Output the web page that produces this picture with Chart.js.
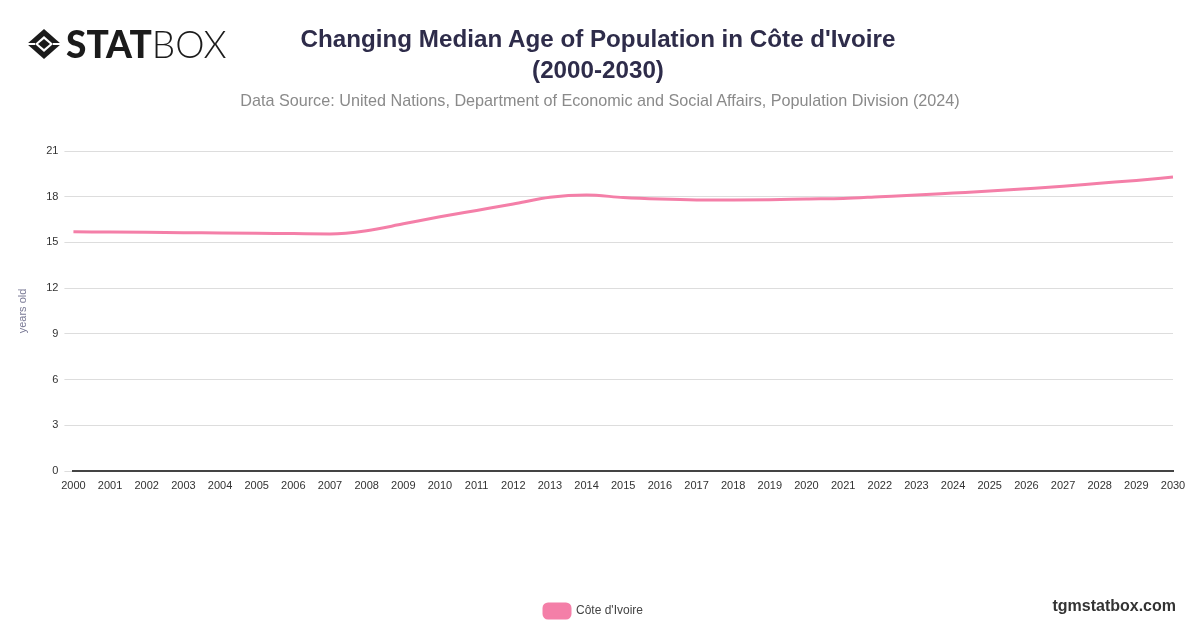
<!DOCTYPE html>
<html>
<head>
<meta charset="utf-8">
<script src="https://cdn.jsdelivr.net/npm/chart.js@4.4.1/dist/chart.umd.min.js"></script>
<style>
  html, body { margin: 0; padding: 0; background: #fff; }
  #wrap { position: relative; width: 1200px; height: 628px; }
  #chart { position: absolute; left: 0; top: 0; }
  #logo { position: absolute; left: 26px; top: 21px; display: flex; align-items: center; font-family: Lato, "Liberation Sans", sans-serif; color: #1b1b1b; }
  #logo .stat { font-weight: 900; font-size: 37px; margin-left: 4px; }
  #logo .box { font-weight: 300; font-size: 37px; }
  #title { position: absolute; left: 0; top: 23px; width: 1196px; text-align: center; font-family: "Liberation Sans", Arial, sans-serif; font-weight: bold; font-size: 24.2px; line-height: 31px; color: #2e2c4a; }
  #subtitle { position: absolute; left: 0; top: 90px; width: 1200px; text-align: center; font-family: "Liberation Sans", Arial, sans-serif; font-size: 16.2px; line-height: 20px; color: #8a8a8a; }
  #site { position: absolute; right: 24px; top: 597px; font-family: "Liberation Sans", Arial, sans-serif; font-weight: bold; font-size: 16px; color: #333; }
</style>
</head>
<body>
<div id="wrap">
  <canvas id="chart" width="1200" height="628"></canvas>
  <div id="logo">
    <svg width="36" height="32" viewBox="0 0 36 32">
      <polygon points="18,1 35,16 18,31 1,16" fill="#1b1b1b"/>
      <polygon points="18,8 27,16 18,24 9,16" fill="#fff"/>
      <polygon points="18,11 24,16 18,21 12,16" fill="#1b1b1b"/>
      <line x1="1" y1="16" x2="9" y2="16" stroke="#fff" stroke-width="2"/>
      <line x1="27" y1="16" x2="35" y2="16" stroke="#fff" stroke-width="2"/>
    </svg>
    <span class="stat">STAT</span><span class="box">BOX</span>
  </div>
  <div id="title">Changing Median Age of Population in Côte d'Ivoire<br>(2000-2030)</div>
  <div id="subtitle">Data Source: United Nations, Department of Economic and Social Affairs, Population Division (2024)</div>
  <div id="site">tgmstatbox.com</div>
</div>
<script>
const years = ['2000','2001','2002','2003','2004','2005','2006','2007','2008','2009','2010',
  '2011','2012','2013','2014','2015','2016','2017','2018','2019','2020',
  '2021','2022','2023','2024','2025','2026','2027','2028','2029','2030'];

const medianAge = [15.70, 15.68, 15.66, 15.64, 15.62, 15.60, 15.58, 15.56, 15.77, 16.22, 16.68,
  17.10, 17.52, 17.96, 18.11, 17.95, 17.85, 17.79, 17.78, 17.80, 17.85,
  17.89, 18.00, 18.11, 18.24, 18.37, 18.52, 18.68, 18.88, 19.07, 19.29];

const countryName = "Côte d'Ivoire";
const yTicks = [0, 3, 6, 9, 12, 15, 18, 21];

new Chart(document.getElementById('chart'), {
  type: 'line',
  data: {
    labels: years,
    datasets: [{
      label: countryName,
      data: medianAge,
      borderColor: '#f47fa8',
      backgroundColor: '#f47fa8',
      borderWidth: 3,
      pointRadius: 0,
      tension: 0.4,
      cubicInterpolationMode: 'monotone'
    }]
  },
  options: {
    responsive: false,
    animation: false,
    layout: { padding: { top: 151, left: 14, right: 27, bottom: 0 } },
    plugins: {
      legend: {
        position: 'bottom',
        labels: {
          boxWidth: 26,
          boxHeight: 14,
          useBorderRadius: true,
          borderRadius: 4,
          padding: 10,
          color: '#444',
          font: { family: '"Liberation Sans", Arial, sans-serif', size: 12 }
        }
      },
      tooltip: { enabled: false }
    },
    scales: {
      x: {
        grid: { display: false, drawTicks: false },
        border: { color: '#444', width: 2 },
        ticks: {
          color: '#333',
          maxRotation: 0,
          autoSkip: false,
          padding: 8,
          font: { family: '"Liberation Sans", Arial, sans-serif', size: 11 }
        },
        afterFit: (axis) => { axis.height = 123; }
      },
      y: {
        min: 0,
        max: 21,
        afterBuildTicks: (axis) => { axis.ticks = yTicks.map(v => ({ value: v })); },
        grid: { color: '#dddddd', tickLength: 9 },
        border: { display: false },
        ticks: {
          color: '#333',
          padding: 6,
          font: { family: '"Liberation Sans", Arial, sans-serif', size: 11 }
        },
        title: {
          display: true,
          text: 'years old',
          color: '#7a7a96',
          padding: { top: 2, bottom: 11 },
          font: { family: '"Liberation Sans", Arial, sans-serif', size: 11 }
        }
      }
    }
  }
});
</script>
</body>
</html>
